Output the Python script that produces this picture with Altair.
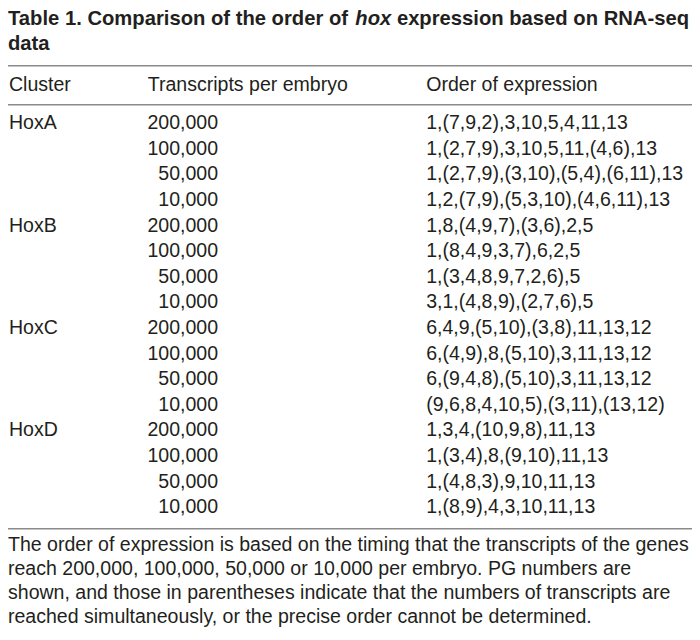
import altair as alt
import pandas as pd

# ---- table content ----
clusters = ["HoxA", "HoxB", "HoxC", "HoxD"]
levels = ["200,000", "100,000", "50,000", "10,000"]
orders = [
    "1,(7,9,2),3,10,5,4,11,13",
    "1,(2,7,9),3,10,5,11,(4,6),13",
    "1,(2,7,9),(3,10),(5,4),(6,11),13",
    "1,2,(7,9),(5,3,10),(4,6,11),13",
    "1,8,(4,9,7),(3,6),2,5",
    "1,(8,4,9,3,7),6,2,5",
    "1,(3,4,8,9,7,2,6),5",
    "3,1,(4,8,9),(2,7,6),5",
    "6,4,9,(5,10),(3,8),11,13,12",
    "6,(4,9),8,(5,10),3,11,13,12",
    "6,(9,4,8),(5,10),3,11,13,12",
    "(9,6,8,4,10,5),(3,11),(13,12)",
    "1,3,4,(10,9,8),11,13",
    "1,(3,4),8,(9,10),11,13",
    "1,(4,8,3),9,10,11,13",
    "1,(8,9),4,3,10,11,13",
]
headers = ["Cluster", "Transcripts per embryo", "Order of expression"]
title_parts = ["Table 1. Comparison of the order of", "hox", "expression based on RNA-seq"]
title_line2 = "data"
footnote = [
    "The order of expression is based on the timing that the transcripts of the genes",
    "reach 200,000, 100,000, 50,000 or 10,000 per embryo. PG numbers are",
    "shown, and those in parentheses indicate that the numbers of transcripts are",
    "reached simultaneously, or the precise order cannot be determined.",
]

# ---- layout (reference pixels scaled to fit inside page margin) ----
W, H = 684, 624
K = W / 700.0


def px(v):
    return v * K


FONT = "Liberation Sans, Arial, Helvetica, sans-serif"
TXT = "#231f20"
RULE = "#8a8a8a"
FS = 20 * K
TFS = 20.7 * K

rows = []
for i, o in enumerate(orders):
    rows.append({
        "row": i,
        "cluster": clusters[i // 4] if i % 4 == 0 else "",
        "level": levels[i % 4],
        "order": o,
    })
df = pd.DataFrame(rows)

yenc = alt.Y("row:Q", scale=alt.Scale(domain=[0, 15], range=[px(124), px(517)]), axis=None)

base = alt.Chart(df)
txt_kw = dict(font=FONT, fontSize=FS, color=TXT, baseline="alphabetic")

col_cluster = base.mark_text(align="left", **txt_kw).encode(
    x=alt.value(px(1)), y=yenc, text="cluster:N")
col_level = base.mark_text(align="right", **txt_kw).encode(
    x=alt.value(px(215)), y=yenc, text="level:N")
col_order = base.mark_text(align="left", **txt_kw).encode(
    x=alt.value(px(428)), y=yenc, text="order:N")

one = alt.Chart(pd.DataFrame({"k": [0]}))

hdr_x = [1, 143, 428]
header_layers = [
    one.mark_text(align="left", text=h, **txt_kw).encode(
        x=alt.value(px(xx)), y=alt.value(px(85)))
    for h, xx in zip(headers, hdr_x)
]

# title pieces (Arial Bold metrics, em units)
w1 = 17.170 * TFS
w2 = (17.170 + 1.778 + 0.278) * TFS
tkw = dict(font=FONT, fontSize=TFS, color=TXT, baseline="alphabetic", align="left", fontWeight="bold")
title_layers = [
    one.mark_text(text=title_parts[0], **tkw).encode(x=alt.value(0), y=alt.value(px(17.5))),
    one.mark_text(text=title_parts[1], fontStyle="italic", **tkw).encode(
        x=alt.value(w1), y=alt.value(px(17.5))),
    one.mark_text(text=title_parts[2], **tkw).encode(x=alt.value(w2), y=alt.value(px(17.5))),
    one.mark_text(text=title_line2, **tkw).encode(x=alt.value(0), y=alt.value(px(42.5))),
]

rule_layers = [
    one.mark_rule(color=RULE, strokeWidth=1.5).encode(
        x=alt.value(0), x2=alt.value(W), y=alt.value(px(yy)))
    for yy in (59, 99, 533)
]

foot = one.mark_text(text=footnote, lineHeight=24.5 * K, align="left", **txt_kw).encode(
    x=alt.value(0), y=alt.value(px(556)))

chart = alt.layer(
    *title_layers, *rule_layers, *header_layers, col_cluster, col_level, col_order, foot
).properties(
    width=W, height=H, padding=0, autosize=alt.AutoSizeParams(type="none")
).configure_view(stroke=None)

chart.save("out.html", embed_options={"renderer": "svg", "actions": False})
